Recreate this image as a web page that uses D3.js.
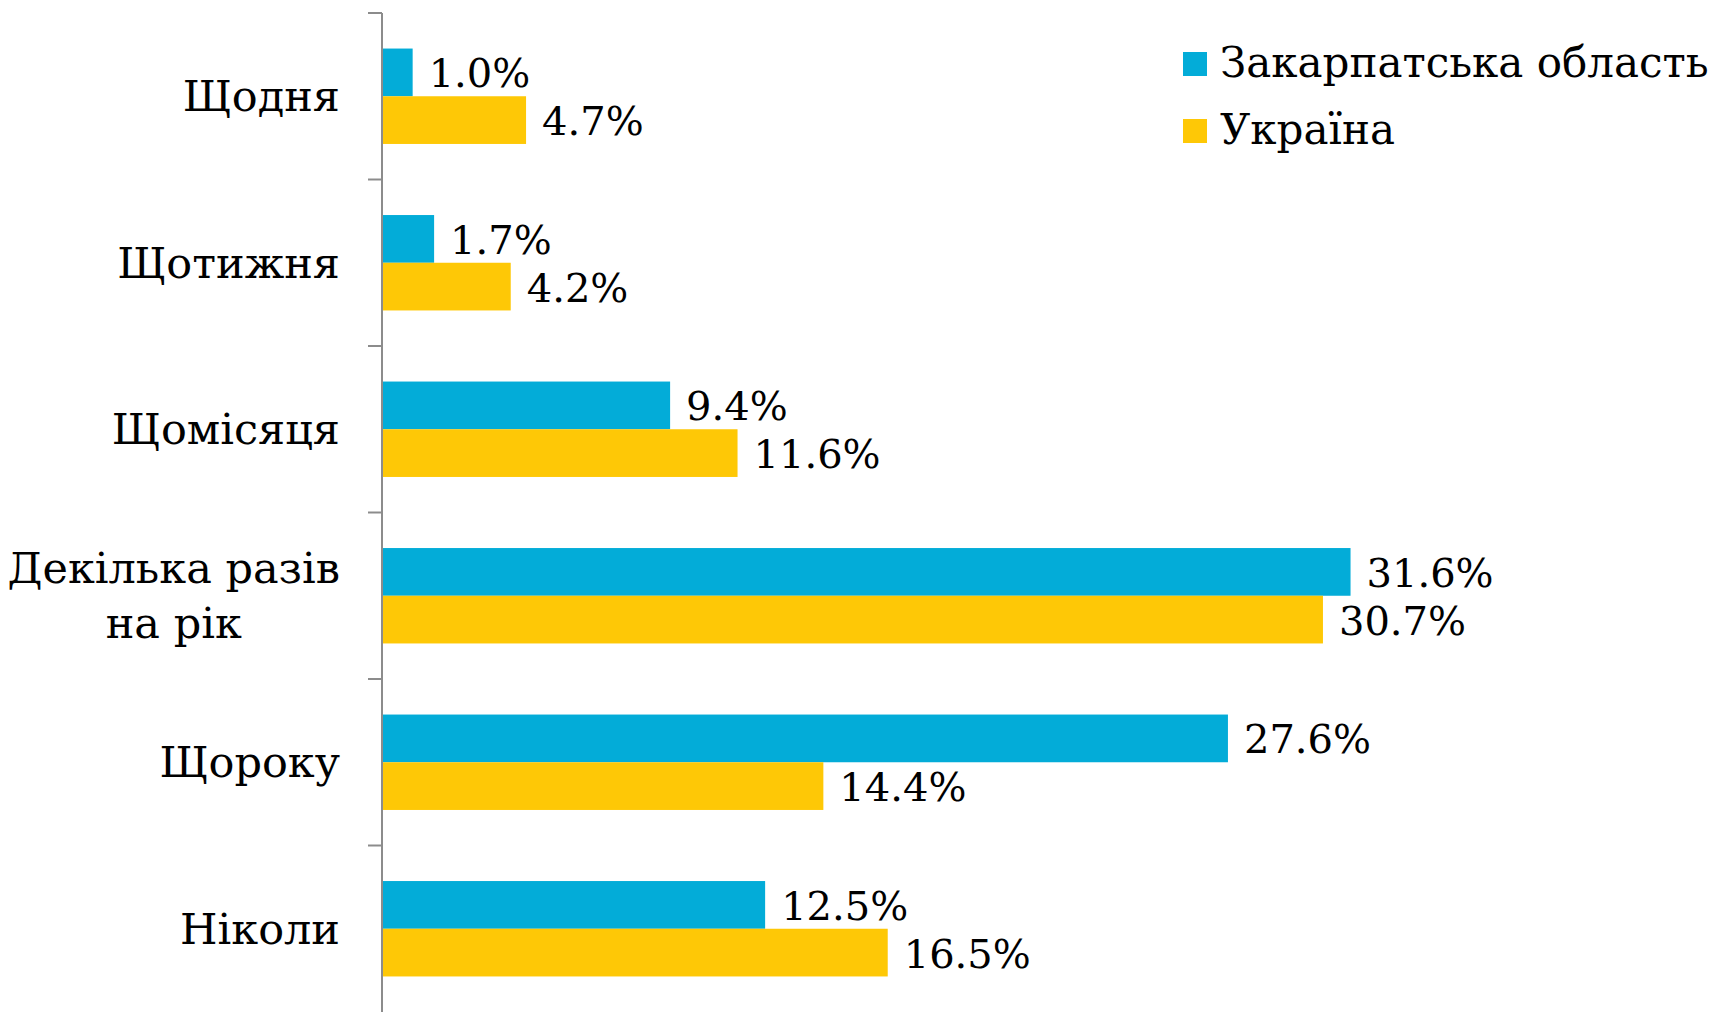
<!DOCTYPE html>
<html>
<head>
<meta charset="utf-8">
<script src="https://cdn.jsdelivr.net/npm/d3@7"></script>
<style>
    html, body { margin: 0; padding: 0; background: #fff; }
    svg text { font-family: "DejaVu Serif", "Liberation Serif", serif; fill: #000; }
</style>
</head>
<body>
<svg id="diagram" width="1711" height="1012"></svg>
<script>
// categories top to bottom, "\n" = line break in label
var kategorien = ["Щодня", "Щотижня", "Щомісяця", "Декілька разів\nна рік", "Щороку", "Ніколи"];
var serien = ["Закарпатська область", "Україна"];
var werteZakarpattia = [1.0, 1.7, 9.4, 31.6, 27.6, 12.5];
var werteUkraine = [4.7, 4.2, 11.6, 30.7, 14.4, 16.5];
var farben = ["#03acd8", "#fec806"];

var svg = d3.select("#diagram");

var axisX = 382,
    plotTop = 13,
    plotBottom = 1012;

var xScale = d3.scaleLinear().domain([0, 35]).range([axisX, axisX + 35 * 30.65]);
var yScale = d3.scaleBand().domain(kategorien).range([plotTop, plotBottom]).padding(0);
var ySub = d3.scaleBand().domain(serien).range([0, yScale.bandwidth()])
    .paddingInner(0).paddingOuter(0.745);

var daten = [];
kategorien.forEach(function (k, i) {
    daten.push({kat: k, serie: serien[0], wert: werteZakarpattia[i], farbe: farben[0]});
    daten.push({kat: k, serie: serien[1], wert: werteUkraine[i], farbe: farben[1]});
});

// bars
svg.selectAll(".bar")
    .data(daten)
    .enter().append("rect")
    .attr("class", "bar")
    .attr("x", xScale(0))
    .attr("y", d => yScale(d.kat) + ySub(d.serie))
    .attr("width", d => xScale(d.wert) - xScale(0))
    .attr("height", ySub.bandwidth())
    .style("fill", d => d.farbe);

// value labels
svg.selectAll(".wert")
    .data(daten)
    .enter().append("text")
    .attr("class", "wert")
    .attr("x", d => xScale(d.wert) + 16)
    .attr("y", d => yScale(d.kat) + ySub(d.serie) + ySub.bandwidth() / 2 + 15)
    .style("font-size", "40px")
    .text(d => d.wert.toFixed(1) + "%");

// axis line + ticks at category borders
svg.append("line")
    .attr("x1", axisX).attr("x2", axisX)
    .attr("y1", plotTop).attr("y2", plotBottom)
    .attr("stroke", "#8c8c8c").attr("stroke-width", 2);

var grenzen = kategorien.map(k => yScale(k));
svg.selectAll(".tick")
    .data(grenzen)
    .enter().append("line")
    .attr("class", "tick")
    .attr("x1", axisX - 14).attr("x2", axisX)
    .attr("y1", d => d).attr("y2", d => d)
    .attr("stroke", "#8c8c8c").attr("stroke-width", 2);

// category labels (centered lines, block right aligned)
var lineHeight = 55;
kategorien.forEach(function (k) {
    var zeilen = k.split("\n");
    var mitte = yScale(k) + yScale.bandwidth() / 2;
    var t = svg.append("text")
        .attr("text-anchor", "middle")
        .style("font-size", "43px");
    zeilen.forEach(function (z, j) {
        t.append("tspan")
            .attr("x", 0)
            .attr("y", mitte + 15 + (j - (zeilen.length - 1) / 2) * lineHeight)
            .text(z);
    });
    var w = t.node().getBBox().width;
    t.attr("transform", "translate(" + (340 - w / 2) + ",0)");
});

// legend
var legende = svg.selectAll(".legendItem")
    .data(serien)
    .enter().append("g")
    .attr("class", "legendItem")
    .attr("transform", (d, i) => "translate(1183," + (52 + i * 67) + ")");

legende.append("rect")
    .attr("width", 24)
    .attr("height", 24)
    .style("fill", (d, i) => farben[i]);

legende.append("text")
    .attr("x", 37)
    .attr("y", 25)
    .style("font-size", "42px")
    .text(d => d);
</script>
</body>
</html>
